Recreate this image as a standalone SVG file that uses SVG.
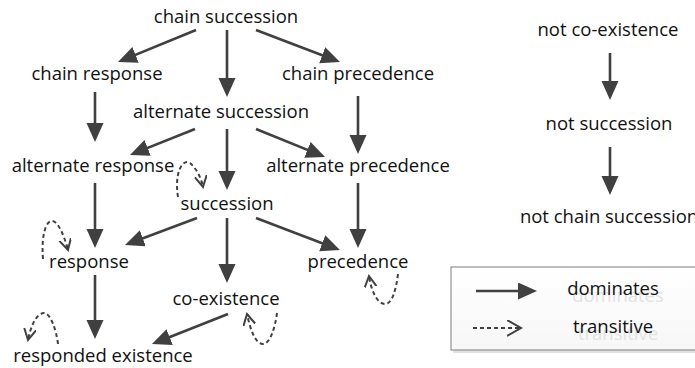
<svg xmlns="http://www.w3.org/2000/svg" width="695" height="368" viewBox="0 0 695 368">
<style>
text{font-family:"Open Sans","Liberation Sans",sans-serif;font-size:18.5px;fill:#111;text-anchor:middle}
.ghost{fill:#e3e3e3}
.dom{stroke:#404040;stroke-width:2.6;fill:none;marker-end:url(#solid)}
.tr{stroke:#404040;stroke-width:2;fill:none;stroke-dasharray:4 3;marker-end:url(#open)}
</style>
<defs>
<marker id="solid" markerUnits="userSpaceOnUse" markerWidth="20" markerHeight="18" refX="14" refY="8.5" orient="auto">
<path d="M0,0 L19,8.5 L0,17 Z" fill="#404040"/>
</marker>
<marker id="open" markerUnits="userSpaceOnUse" markerWidth="14" markerHeight="14" refX="11" refY="6" orient="auto">
<path d="M0,0 L11,6 L0,12" fill="none" stroke="#404040" stroke-width="2"/>
</marker>
<marker id="openL" markerUnits="userSpaceOnUse" markerWidth="18" markerHeight="18" refX="14" refY="8" orient="auto">
<path d="M0,0 L14,8 L0,16" fill="none" stroke="#404040" stroke-width="2"/>
</marker>
<linearGradient id="lg" x1="0" y1="0" x2="0" y2="1">
<stop offset="0" stop-color="#ffffff"/>
<stop offset="1" stop-color="#f7f7f7"/>
</linearGradient>
</defs>
<g id="connectors">
<line class="dom" x1="196" y1="30" x2="122.6" y2="60.1"/>
<line class="dom" x1="227" y1="30" x2="227" y2="92"/>
<line class="dom" x1="256" y1="30" x2="335.3" y2="60.2"/>
<line class="dom" x1="95" y1="92" x2="95" y2="137"/>
<line class="dom" x1="358" y1="96" x2="358" y2="149"/>
<line class="dom" x1="195" y1="129" x2="134.6" y2="153.1"/>
<line class="dom" x1="227" y1="129" x2="227" y2="185"/>
<line class="dom" x1="256" y1="129" x2="320.4" y2="155.1"/>
<line class="dom" x1="95" y1="183" x2="95" y2="243"/>
<line class="dom" x1="358" y1="183" x2="358" y2="243"/>
<line class="dom" x1="197" y1="218" x2="129.7" y2="243.2"/>
<line class="dom" x1="227" y1="218" x2="227" y2="278"/>
<line class="dom" x1="256" y1="218" x2="335.3" y2="248.2"/>
<line class="dom" x1="95" y1="275" x2="95" y2="334"/>
<line class="dom" x1="228" y1="314" x2="156.6" y2="342.2"/>
<line class="dom" x1="610" y1="53" x2="610" y2="95"/>
<line class="dom" x1="610" y1="147" x2="610" y2="190"/>
<path class="tr" d="M178,197 C174,172 183,158 190,163 C196,168 201,177 203,187"/>
<path class="tr" d="M43,259 C41,235 46,221 52,221 C58,221 64,235 68,250"/>
<path class="tr" d="M398,274 C396,290 392,304 385,304 C377,304 371,290 369,276"/>
<path class="tr" d="M277,313 C275,328 270,344 263,344 C255,344 250,328 247,314"/>
<path class="tr" d="M58,344 C56,328 50,313 44,313 C37,313 31,325 28,340"/>
</g>
<g id="n-chain-succession"><text x="226" y="23">chain succession</text></g>
<g id="n-chain-response"><text x="97" y="80">chain response</text></g>
<g id="n-chain-precedence"><text x="358" y="80">chain precedence</text></g>
<g id="n-alternate-succession"><text x="221" y="118">alternate succession</text></g>
<g id="n-alternate-response"><text x="93" y="172">alternate response</text></g>
<g id="n-alternate-precedence"><text x="358" y="172">alternate precedence</text></g>
<g id="n-succession"><text x="227" y="210">succession</text></g>
<g id="n-response"><text x="89" y="268">response</text></g>
<g id="n-precedence"><text x="358" y="268">precedence</text></g>
<g id="n-co-existence"><text x="226" y="305">co-existence</text></g>
<g id="n-responded-existence"><text x="103" y="362">responded existence</text></g>
<g id="n-not-co-existence"><text x="608" y="36">not co-existence</text></g>
<g id="n-not-succession"><text x="609" y="130">not succession</text></g>
<g id="n-not-chain-succession"><text x="609" y="223">not chain succession</text></g>
<g id="legend">
<rect x="453" y="270" width="260" height="83" fill="#d6d6d6" opacity="0.7"/>
<rect x="451" y="267" width="260" height="83" fill="url(#lg)" stroke="#7f7f7f" stroke-width="1"/>
<line class="dom" x1="476" y1="291" x2="532" y2="291"/>
<line x1="473" y1="328" x2="521" y2="328" stroke="#404040" stroke-width="2" stroke-dasharray="4 3" marker-end="url(#openL)"/>
<text class="ghost" x="618" y="302">dominates</text>
<text x="613" y="295">dominates</text>
<text class="ghost" x="618" y="340">transitive</text>
<text x="613" y="333">transitive</text>
</g>
</svg>
